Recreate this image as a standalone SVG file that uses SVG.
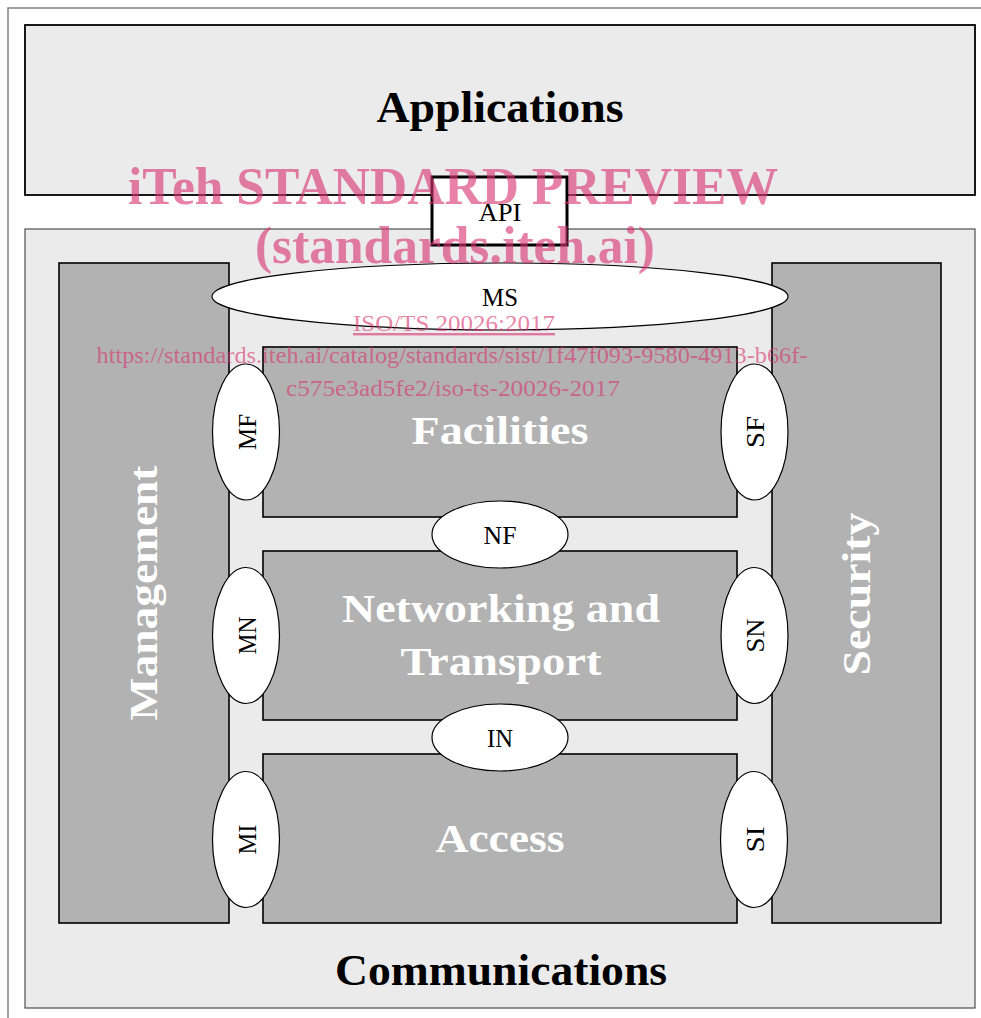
<svg xmlns="http://www.w3.org/2000/svg" width="981" height="1018" viewBox="0 0 981 1018">
<style>
.layer{fill:#ebebeb;}
.block{fill:#b2b2b2;stroke:#000;stroke-width:1.6;}
.iface{fill:#fff;stroke:#000;stroke-width:1.2;}
.big{font-family:"Liberation Serif",serif;font-weight:bold;fill:#000;text-anchor:middle;}
.wbig{font-family:"Liberation Serif",serif;font-weight:bold;fill:#fff;text-anchor:middle;}
.lbl{font-family:"Liberation Serif",serif;font-size:26px;fill:#000;text-anchor:middle;}
.wm{font-family:"Liberation Serif",serif;fill:#d8336e;fill-opacity:0.62;text-anchor:middle;}
</style>
<rect width="981" height="1018" fill="#fff"/>
<path d="M8,1018 V8 H981" fill="none" stroke="#808080" stroke-width="1.5"/>

<g id="applications">
<rect x="25" y="25" width="950" height="170" class="layer" stroke="#000" stroke-width="1.8"/>
<text x="500" y="122" class="big" font-size="44" textLength="247" lengthAdjust="spacingAndGlyphs">Applications</text>
</g>

<g id="communications">
<rect x="25" y="229" width="950" height="779" class="layer" stroke="#4d4d4d" stroke-width="1.2"/>
<text x="501" y="985" class="big" font-size="44" textLength="332" lengthAdjust="spacingAndGlyphs">Communications</text>
</g>

<g id="api">
<rect x="432" y="177" width="135" height="68" fill="#fff" stroke="#000" stroke-width="3"/>
<text x="500" y="221" class="lbl" textLength="43" lengthAdjust="spacingAndGlyphs">API</text>
</g>

<g id="management">
<rect x="59" y="263" width="170" height="660" class="block"/>
<text transform="translate(157,593) rotate(-90)" x="0" y="0" class="wbig" font-size="41" textLength="255" lengthAdjust="spacingAndGlyphs">Management</text>
</g>

<g id="security">
<rect x="772" y="263" width="169" height="660" class="block"/>
<text transform="translate(870,594) rotate(-90)" x="0" y="0" class="wbig" font-size="41" textLength="163" lengthAdjust="spacingAndGlyphs">Security</text>
</g>

<g id="facilities">
<rect x="263" y="347" width="474" height="170" class="block"/>
<text x="500" y="444" class="wbig" font-size="41" textLength="177" lengthAdjust="spacingAndGlyphs">Facilities</text>
</g>

<g id="networking">
<rect x="263" y="551" width="474" height="169" class="block"/>
<text x="501" y="622" class="wbig" font-size="41" textLength="318" lengthAdjust="spacingAndGlyphs">Networking and</text>
<text x="501" y="675" class="wbig" font-size="41" textLength="201" lengthAdjust="spacingAndGlyphs">Transport</text>
</g>

<g id="access">
<rect x="263" y="754" width="474" height="169" class="block"/>
<text x="500" y="852" class="wbig" font-size="41" textLength="129" lengthAdjust="spacingAndGlyphs">Access</text>
</g>

<g id="connectors">
<g id="ms">
<ellipse cx="500" cy="296.5" rx="288" ry="33.5" class="iface"/>
<text x="500" y="306" class="lbl" textLength="36" lengthAdjust="spacingAndGlyphs">MS</text>
</g>
<g id="mf">
<ellipse cx="246" cy="432" rx="33.5" ry="68" class="iface"/>
<text transform="translate(256,432) rotate(-90)" class="lbl" textLength="36" lengthAdjust="spacingAndGlyphs">MF</text>
</g>
<g id="sf">
<ellipse cx="754.5" cy="432" rx="33.5" ry="68" class="iface"/>
<text transform="translate(764,432) rotate(-90)" class="lbl" textLength="32" lengthAdjust="spacingAndGlyphs">SF</text>
</g>
<g id="nf">
<ellipse cx="500" cy="534.5" rx="68" ry="33.5" class="iface"/>
<text x="500" y="544" class="lbl" textLength="33" lengthAdjust="spacingAndGlyphs">NF</text>
</g>
<g id="mn">
<ellipse cx="246" cy="635.5" rx="33.5" ry="68" class="iface"/>
<text transform="translate(256,635.5) rotate(-90)" class="lbl" textLength="38" lengthAdjust="spacingAndGlyphs">MN</text>
</g>
<g id="sn">
<ellipse cx="754.5" cy="635.5" rx="33.5" ry="68" class="iface"/>
<text transform="translate(764,635.5) rotate(-90)" class="lbl" textLength="34" lengthAdjust="spacingAndGlyphs">SN</text>
</g>
<g id="in">
<ellipse cx="500" cy="737.5" rx="68" ry="33.5" class="iface"/>
<text x="500" y="747" class="lbl" textLength="26" lengthAdjust="spacingAndGlyphs">IN</text>
</g>
<g id="mi">
<ellipse cx="246" cy="839.5" rx="33.5" ry="68" class="iface"/>
<text transform="translate(256,839.5) rotate(-90)" class="lbl" textLength="30" lengthAdjust="spacingAndGlyphs">MI</text>
</g>
<g id="si">
<ellipse cx="754" cy="839.5" rx="33.5" ry="68" class="iface"/>
<text transform="translate(764,839.5) rotate(-90)" class="lbl" textLength="26" lengthAdjust="spacingAndGlyphs">SI</text>
</g>
</g>

<g id="watermark">
<text x="453" y="204" class="wm" font-size="53" font-weight="bold" textLength="650" lengthAdjust="spacingAndGlyphs">iTeh STANDARD PREVIEW</text>
<text x="455" y="263" class="wm" font-size="53" font-weight="bold" textLength="400" lengthAdjust="spacingAndGlyphs">(standards.iteh.ai)</text>
<text x="454" y="331" class="wm" font-size="24" text-decoration="underline" textLength="202" lengthAdjust="spacingAndGlyphs">ISO/TS 20026:2017</text>
<text x="452" y="363" class="wm" font-size="24" textLength="711" lengthAdjust="spacingAndGlyphs">https://standards.iteh.ai/catalog/standards/sist/1f47f093-9580-4913-b66f-</text>
<text x="453" y="396" class="wm" font-size="24" textLength="334" lengthAdjust="spacingAndGlyphs">c575e3ad5fe2/iso-ts-20026-2017</text>
</g>
</svg>
